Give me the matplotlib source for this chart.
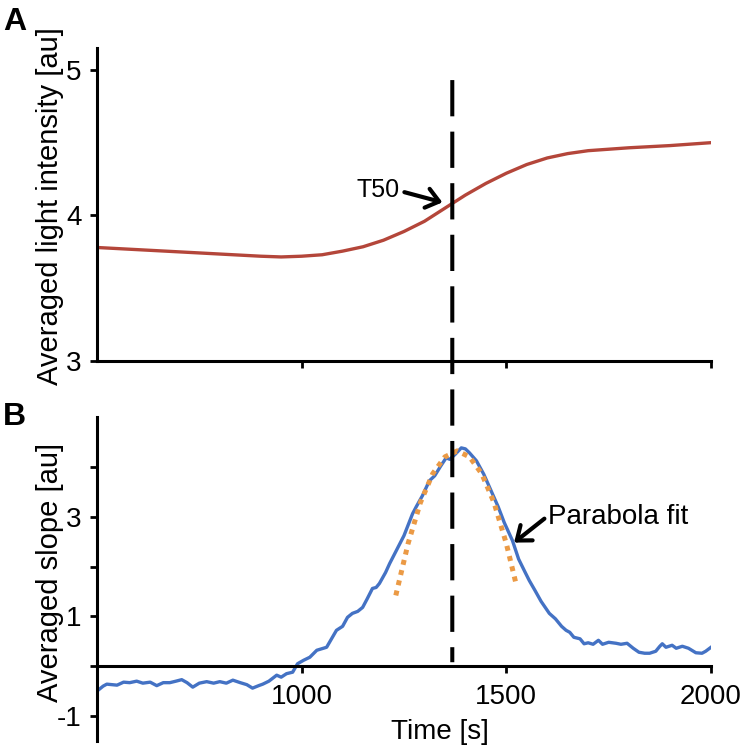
import matplotlib
matplotlib.use("Agg")
import matplotlib.pyplot as plt
from matplotlib.patches import ConnectionPatch

# --- data ---
T50 = 1368  # time of half rise (s)

time_a = [500, 600, 700, 800, 900, 950, 1000, 1050, 1100, 1150, 1200, 1250, 1300, 1350, 1400,
          1450, 1500, 1550, 1600, 1650, 1700, 1750, 1800, 1900, 2000]
light_a = [3.78, 3.765, 3.75, 3.735, 3.72, 3.715, 3.72, 3.73, 3.755, 3.785, 3.83, 3.89, 3.96,
           4.05, 4.14, 4.22, 4.29, 4.35, 4.395, 4.425, 4.445, 4.455, 4.465, 4.48, 4.50]

time_b = [500, 515, 524, 549, 565, 580, 597, 612, 630, 646, 662, 678, 693, 707, 720, 734, 750,
          768, 785, 800, 816, 832, 850, 866, 880, 895, 905, 920, 939, 950, 963, 978, 990, 1005,
          1020, 1037, 1061, 1085, 1100, 1112, 1124, 1137, 1149, 1160, 1173, 1182, 1190, 1205,
          1215, 1230, 1250, 1271, 1280, 1295, 1312, 1325, 1340, 1353, 1362, 1375, 1390, 1400,
          1410, 1427, 1445, 1466, 1480, 1495, 1515, 1530, 1545, 1556, 1570, 1585, 1605, 1620,
          1635, 1646, 1655, 1665, 1680, 1690, 1700, 1712, 1725, 1735, 1750, 1768, 1780, 1795,
          1810, 1824, 1838, 1850, 1865, 1875, 1881, 1890, 1905, 1915, 1930, 1945, 1963, 1978,
          1987, 2000]
slope_b = [-0.50, -0.40, -0.36, -0.38, -0.32, -0.33, -0.30, -0.34, -0.32, -0.39, -0.33, -0.33,
           -0.30, -0.27, -0.33, -0.42, -0.34, -0.31, -0.34, -0.31, -0.34, -0.28, -0.33, -0.37,
           -0.44, -0.39, -0.36, -0.30, -0.18, -0.22, -0.15, -0.12, 0.05, 0.12, 0.18, 0.32, 0.38,
           0.72, 0.80, 0.98, 1.06, 1.10, 1.18, 1.35, 1.56, 1.58, 1.66, 1.88, 2.06, 2.30, 2.62,
           3.06, 3.20, 3.42, 3.72, 3.82, 4.02, 4.18, 4.15, 4.25, 4.38, 4.36, 4.28, 4.12, 3.85,
           3.46, 3.20, 2.88, 2.52, 2.15, 1.90, 1.72, 1.52, 1.30, 1.06, 0.95, 0.80, 0.72, 0.68,
           0.58, 0.55, 0.45, 0.47, 0.44, 0.52, 0.44, 0.48, 0.46, 0.44, 0.46, 0.36, 0.28, 0.26,
           0.26, 0.30, 0.40, 0.45, 0.38, 0.42, 0.36, 0.40, 0.36, 0.27, 0.26, 0.30, 0.38]

fit_time = [1230, 1260, 1290, 1320, 1350, 1380, 1410, 1440, 1470, 1500, 1525]
fit_slope = [1.42, 2.46, 3.28, 3.86, 4.20, 4.32, 4.20, 3.86, 3.28, 2.46, 1.61]

yticks_a = [3, 4, 5]
yticks_b = [-1, 0, 1, 2, 3, 4]
ylabels_b = ['-1', '', '1', '', '3', '']
xticks = [1000, 1500, 2000]

RED = '#B4463A'
BLUE = '#4472C4'
ORANGE = '#EB9A45'


def style_axes(ax):
    for side in ['top', 'right']:
        ax.spines[side].set_visible(False)
    for side in ['left', 'bottom']:
        ax.spines[side].set_linewidth(2.2)
    ax.tick_params(direction='out', length=5, width=2, labelsize=20, pad=6)
    ax.set_xlim(500, 2000)
    ax.set_xticks(xticks)


def plot_figure():
    plt.rcParams['font.family'] = ['Liberation Sans', 'DejaVu Sans']
    plt.rcParams['axes.unicode_minus'] = False

    fig = plt.figure(figsize=(7.5, 7.45), dpi=100)
    ax1 = fig.add_axes([0.1293, 0.5154, 0.8187, 0.4201])
    ax2 = fig.add_axes([0.1293, 0.0054, 0.8187, 0.4349])

    # --- A: averaged light intensity ---
    style_axes(ax1)
    ax1.plot(time_a, light_a, color=RED, lw=2.4)
    ax1.set_ylim(3, 5.15)
    ax1.set_yticks(yticks_a)
    ax1.set_xticklabels([])
    ax1.set_ylabel('Averaged light intensity [au]', fontsize=21)
    ax1.yaxis.set_label_coords(-0.054, 0.495)
    ax1.annotate('', xy=(1344, 4.09), xytext=(1251, 4.16),
                 arrowprops=dict(arrowstyle='->,head_length=0.45,head_width=0.35',
                                 lw=3, color='black', mutation_scale=20,
                                 shrinkA=0, shrinkB=0))
    ax1.text(1239, 4.127, 'T50', fontsize=18, ha='right', va='baseline')

    # --- B: averaged slope ---
    style_axes(ax2)
    ax2.spines['bottom'].set_position(('data', 0))
    ax2.plot(time_b, slope_b, color=BLUE, lw=2.4)
    ax2.plot(fit_time, fit_slope, color=ORANGE, lw=3.6,
             linestyle=(0, (1, 1.1)), dash_capstyle='butt')
    ax2.set_ylim(-1.5, 5)
    ax2.set_yticks(yticks_b)
    ax2.set_yticklabels(ylabels_b)
    ax2.tick_params(axis='x', pad=8)
    ax2.set_ylabel('Averaged slope [au]', fontsize=21)
    ax2.yaxis.set_label_coords(-0.054, 0.52)
    ax2.set_xlabel('Time [s]', fontsize=20)
    ax2.xaxis.set_label_coords(0.559, 0.068)
    ax2.annotate('', xy=(1519, 2.48), xytext=(1593, 2.96),
                 arrowprops=dict(arrowstyle='->,head_length=0.45,head_width=0.35',
                                 lw=3, color='black', mutation_scale=20,
                                 shrinkA=0, shrinkB=0))
    ax2.text(1602, 2.86, 'Parabola fit', fontsize=20, ha='left', va='baseline')

    # dashed T50 marker through both panels
    line = ConnectionPatch(xyA=(T50, 4.93), coordsA=ax1.transData,
                           xyB=(T50, 0.08), coordsB=ax2.transData,
                           color='black', lw=2.9, linestyle=(0, (9, 3.8)),
                           capstyle='butt')
    fig.add_artist(line)

    fig.text(0.004, 1 - 30 / 745, 'A', fontsize=23, fontweight='bold', va='baseline')
    fig.text(0.004, 1 - 425 / 745, 'B', fontsize=23, fontweight='bold', va='baseline')

    fig.savefig('out.png', dpi=100)


if __name__ == "__main__":
    plot_figure()
